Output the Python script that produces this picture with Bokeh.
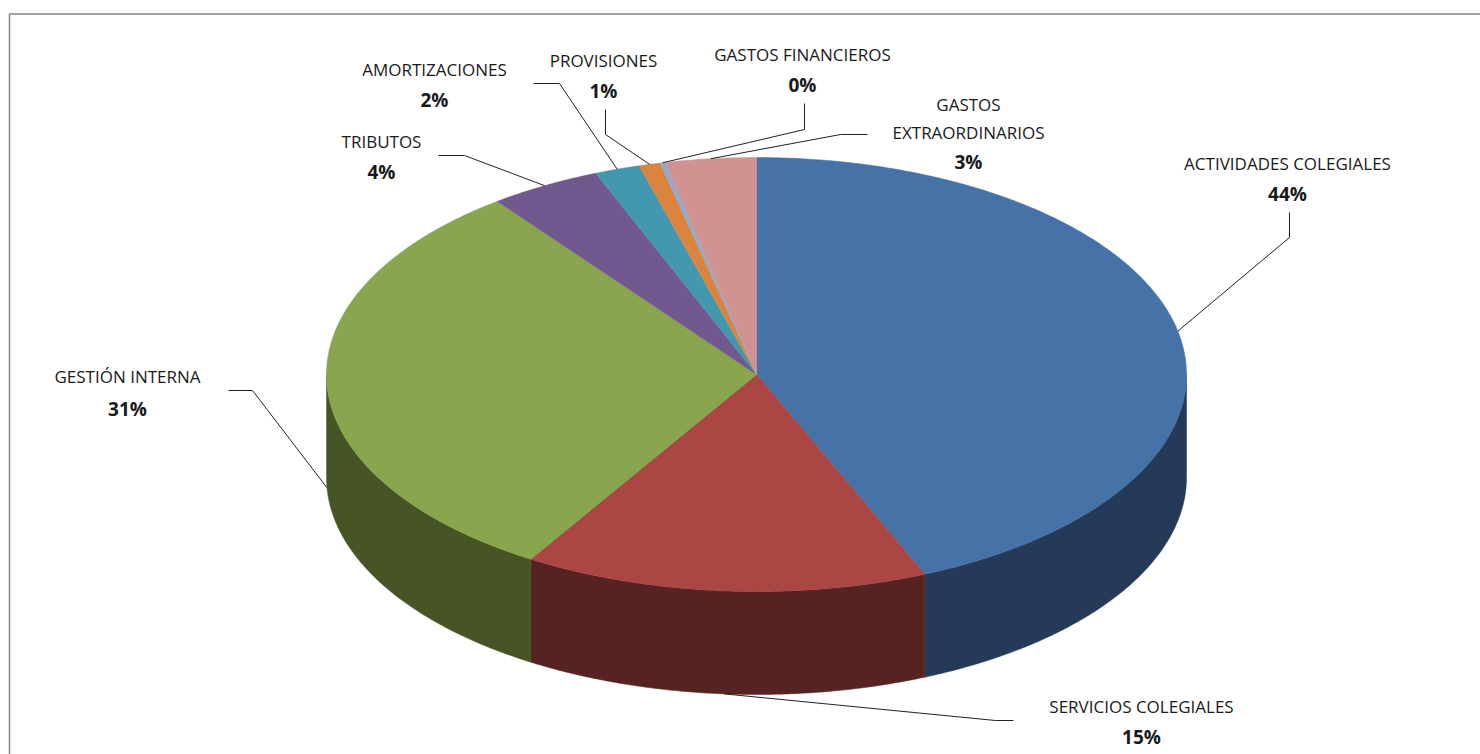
import numpy as np
from bokeh.plotting import figure
from bokeh.models import Range1d, ColumnDataSource
from bokeh.core.properties import value
from bokeh.embed import file_html
from bokeh.resources import INLINE

# ---------------- data ----------------
categories = [
    "ACTIVIDADES COLEGIALES",
    "SERVICIOS COLEGIALES",
    "GESTIÓN INTERNA",
    "TRIBUTOS",
    "AMORTIZACIONES",
    "PROVISIONES",
    "GASTOS FINANCIEROS",
    "GASTOS\nEXTRAORDINARIOS",
]
values = [43.6, 15.2, 30.9, 4.2, 1.7, 0.8, 0.2, 3.4]

top_colors = ["#4572A7", "#AA4643", "#89A54E", "#71588F", "#4198AF", "#DB843D", "#93A9CF", "#D19392"]
side_colors = ["#243A56", "#562323", "#465426", "#3A2D4A", "#215060", "#70431F", "#4B576B", "#6B4B4B"]

# label layout (page coordinates): centre x, name y, percent y
label_x = [1287, 1141, 127, 381, 434, 603, 802, 968]
name_y = [163, 706, 376, 141, 69, 60, 54, 118]
pct_y = [193, 736, 408, 171, 99, 90, 84, 161]
# leader elbows (start point near label, elbow), end computed on pie edge
leader_start = [(1289, 212), (1013, 720), (228, 390), (438, 155), (533, 83), (605, 109), (804, 103), (867, 134)]
leader_elbow = [(1289, 237), (995, 720), (252, 390), (464, 155), (559, 83), (605, 134), (804, 129), (840, 134)]

# ---------------- geometry ----------------
CX, CY, RX, RY, DEPTH = 756, 374, 430, 217, 103

total = float(sum(values))
fracs = [v / total for v in values]
starts = np.concatenate([[0.0], np.cumsum(fracs)[:-1]]) * 360.0
ends = np.cumsum(fracs) * 360.0


def ell(theta_deg):
    t = np.radians(theta_deg)
    return CX + RX * np.sin(t), CY - RY * np.cos(t)


side_xs, side_ys, side_c = [], [], []
top_xs, top_ys, top_c = [], [], []
for i, (a0, a1) in enumerate(zip(starts, ends)):
    # side wall (front half only: 90..270 degrees)
    s0, s1 = max(a0, 90.0), min(a1, 270.0)
    if s1 > s0:
        th = np.linspace(s0, s1, 120)
        x, y = ell(th)
        side_xs.append(list(x) + list(x[::-1]))
        side_ys.append(list(y) + list((y + DEPTH)[::-1]))
        side_c.append(side_colors[i])
    th = np.linspace(a0, a1, max(4, int((a1 - a0) * 2)))
    x, y = ell(th)
    top_xs.append([CX] + list(x))
    top_ys.append([CY] + list(y))
    top_c.append(top_colors[i])

# leader lines
lx, ly = [], []
for i, (a0, a1) in enumerate(zip(starts, ends)):
    mid = (a0 + a1) / 2.0
    ex, ey = ell(mid)
    if 90 < mid < 270:
        ey = ey + DEPTH
    lx.append([leader_start[i][0], leader_elbow[i][0], ex])
    ly.append([leader_start[i][1], leader_elbow[i][1], ey])

pct_text = [f"{round(f * 100)}%" for f in fracs]

# ---------------- figure ----------------
W, H = 1480, 754
p = figure(width=W, height=H, x_range=Range1d(0, W), y_range=Range1d(H, 0),
           output_backend="svg", toolbar_location=None, min_border=0)
p.axis.visible = False
p.grid.visible = False
p.outline_line_color = None
p.background_fill_color = "white"

# chart border (top & left visible)
p.line([9, 9, W], [H, 13.5, 13.5], line_color="#868686", line_width=1.5)

p.patches(xs="xs", ys="ys", fill_color="c", line_color="c", line_width=0.5,
          source=ColumnDataSource(dict(xs=side_xs, ys=side_ys, c=side_c)))
p.patches(xs="xs", ys="ys", fill_color="c", line_color="c", line_width=0.5,
          source=ColumnDataSource(dict(xs=top_xs, ys=top_ys, c=top_c)))

p.multi_line(xs=lx, ys=ly, line_color="#222222", line_width=1)

p.text(x=label_x, y=name_y, text=categories, text_font=value("Open Sans"),
       text_font_size="17px", text_align="center", text_baseline="middle",
       text_color="#1a1a1a", text_line_height=1.2)
p.text(x=label_x, y=pct_y, text=pct_text, text_font=value("Open Sans"),
       text_font_size="19px", text_font_style="bold", text_align="center",
       text_baseline="middle", text_color="#1a1a1a")

open("out.html", "w").write(file_html(p, INLINE))
